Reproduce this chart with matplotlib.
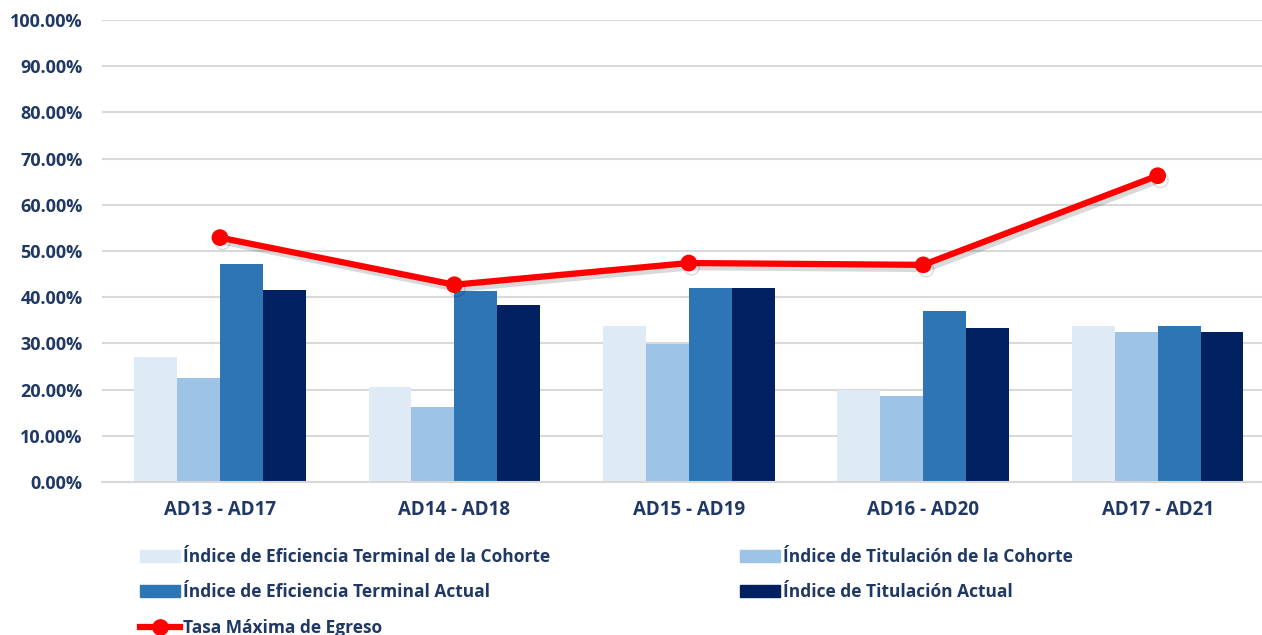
import matplotlib.pyplot as plt
import matplotlib.patheffects as pe
from matplotlib.patches import Patch
from matplotlib.lines import Line2D
import numpy as np

cohortes = ['AD13 - AD17', 'AD14 - AD18', 'AD15 - AD19', 'AD16 - AD20', 'AD17 - AD21']
ef_cohorte = [27.0, 20.6, 33.8, 19.9, 33.8]
tit_cohorte = [22.5, 16.2, 29.8, 18.6, 32.5]
ef_actual = [47.2, 41.3, 41.9, 37.0, 33.8]
tit_actual = [41.6, 38.3, 41.9, 33.3, 32.5]
tasa_max = [52.9, 42.7, 47.4, 47.0, 66.3]

nombres = ['Índice de Eficiencia Terminal de la Cohorte',
           'Índice de Titulación de la Cohorte',
           'Índice de Eficiencia Terminal Actual',
           'Índice de Titulación Actual',
           'Tasa Máxima de Egreso']
colores = ['#DEEBF7', '#9DC3E6', '#2E75B6', '#002060']
texto = '#1F3864'

plt.rcParams['font.family'] = ['Open Sans', 'DejaVu Sans']
plt.rcParams['font.weight'] = 'bold'

fig = plt.figure(figsize=(12.62, 6.35), dpi=100)
ax = fig.add_axes([102 / 1262, 1 - 482 / 635, 1 - 102 / 1262, (482 - 20) / 635])

x = np.arange(len(cohortes))
w = 0.183
series = [ef_cohorte, tit_cohorte, ef_actual, tit_actual]
for i, (vals, c) in enumerate(zip(series, colores)):
    ax.bar(x + (i - 1.5) * w, np.array(vals) / 100, w, color=c, zorder=2)

ax.plot(x, np.array(tasa_max) / 100, color='#FF0000', lw=4.5, marker='o', ms=11,
        zorder=3, solid_capstyle='round',
        path_effects=[pe.SimpleLineShadow(offset=(2, -3), alpha=0.15, shadow_color='k'), pe.Normal()])

ax.set_xlim(-0.503, 4.445)
ax.set_ylim(0, 1)
ax.set_yticks(np.arange(0, 1.01, 0.1))
ax.set_yticklabels([f'{v * 100:.2f}%' for v in np.arange(0, 1.01, 0.1)])
ax.set_xticks(x)
ax.set_xticklabels(cohortes)
ax.grid(axis='y', color='#D9D9D9', lw=1.5, zorder=0)
for s in ['top', 'right', 'left']:
    ax.spines[s].set_visible(False)
ax.spines['bottom'].set_color('#D9D9D9')
ax.spines['bottom'].set_linewidth(1.5)
ax.tick_params(length=0, labelcolor=texto)
ax.tick_params(axis='y', labelsize=13, pad=14)
ax.tick_params(axis='x', labelsize=13.5, pad=13)
for t in ax.get_xticklabels() + ax.get_yticklabels():
    t.set_fontweight('bold')

h_ef_c = Patch(color=colores[0])
h_tit_c = Patch(color=colores[1])
h_ef_a = Patch(color=colores[2])
h_tasa = Line2D([], [], color='#FF0000', lw=4.5, marker='o', ms=11)
h_tit_a = Patch(color=colores[3])

kw = dict(frameon=False, fontsize=12.5, labelcolor=texto, handlelength=2.3, handleheight=0.7,
          handletextpad=0.2, labelspacing=1.0, loc='upper left', borderaxespad=0)
leg1 = fig.legend([h_ef_c, h_ef_a, h_tasa], [nombres[0], nombres[2], nombres[4]],
                  bbox_to_anchor=(133 / 1262, 1 - 541 / 635), **kw)
leg2 = fig.legend([h_tit_c, h_tit_a], [nombres[1], nombres[3]],
                  bbox_to_anchor=(733 / 1262, 1 - 541 / 635), **kw)
for leg in (leg1, leg2):
    for t in leg.get_texts():
        t.set_fontweight('bold')

fig.savefig('out.png', dpi=100)
